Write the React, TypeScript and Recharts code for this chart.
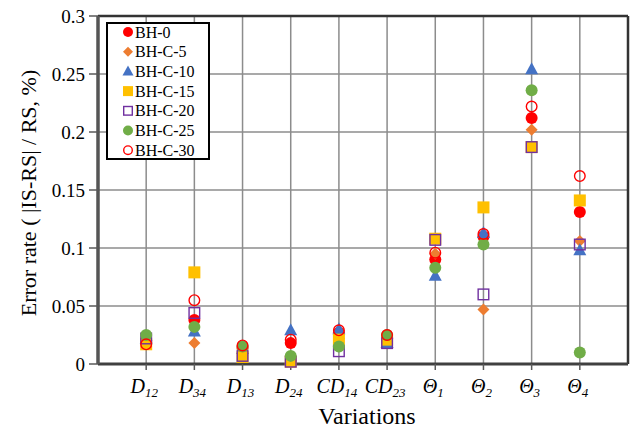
import React from "react";
import {
  ScatterChart,
  Scatter,
  XAxis,
  YAxis,
  CartesianGrid,
  ReferenceLine,
} from "recharts";

const categoryBase = ["D", "D", "D", "D", "CD", "CD", "Θ", "Θ", "Θ", "Θ"];
const categorySub = ["12", "34", "13", "24", "14", "23", "1", "2", "3", "4"];
const yTicks = [0, 0.05, 0.1, 0.15, 0.2, 0.25, 0.3];

const bh0 = [0.02, 0.038, 0.014, 0.018, 0.027, 0.022, 0.09, 0.11, 0.212, 0.131];
const bhC5 = [0.02, 0.018, 0.013, 0.003, 0.022, 0.02, 0.095, 0.047, 0.202, 0.106];
const bhC10 = [0.022, 0.028, 0.013, 0.029, 0.03, 0.018, 0.076, 0.113, 0.254, 0.098];
const bhC15 = [0.017, 0.079, 0.006, 0.002, 0.021, 0.021, 0.108, 0.135, 0.187, 0.141];
const bhC20 = [0.022, 0.044, 0.007, 0.002, 0.011, 0.018, 0.107, 0.06, 0.187, 0.103];
const bhC25 = [0.025, 0.032, 0.015, 0.007, 0.015, 0.025, 0.083, 0.103, 0.236, 0.01];
const bhC30 = [0.017, 0.055, 0.016, 0.021, 0.029, 0.025, 0.096, 0.112, 0.222, 0.162];

type Kind = "circle" | "diamond" | "triangle" | "square" | "hsquare" | "hcircle";

const series: { name: string; values: number[]; color: string; kind: Kind }[] = [
  { name: "BH-0", values: bh0, color: "#FF0000", kind: "circle" },
  { name: "BH-C-5", values: bhC5, color: "#ED7D31", kind: "diamond" },
  { name: "BH-C-10", values: bhC10, color: "#4472C4", kind: "triangle" },
  { name: "BH-C-15", values: bhC15, color: "#FFC000", kind: "square" },
  { name: "BH-C-20", values: bhC20, color: "#7030A0", kind: "hsquare" },
  { name: "BH-C-25", values: bhC25, color: "#70AD47", kind: "circle" },
  { name: "BH-C-30", values: bhC30, color: "#FF0000", kind: "hcircle" },
];

const FONT = "'Liberation Serif', 'Times New Roman', serif";

function Marker({ kind, color, cx, cy, r = 6 }: { kind: Kind; color: string; cx: number; cy: number; r?: number }) {
  switch (kind) {
    case "circle":
      return <circle cx={cx} cy={cy} r={r} fill={color} />;
    case "hcircle":
      return <circle cx={cx} cy={cy} r={r - 0.7} fill="none" stroke={color} strokeWidth={1.4} />;
    case "diamond":
      return (
        <polygon
          points={`${cx},${cy - r} ${cx + r},${cy} ${cx},${cy + r} ${cx - r},${cy}`}
          fill={color}
        />
      );
    case "triangle":
      return (
        <polygon
          points={`${cx},${cy - r - 1} ${cx + r + 0.5},${cy + r - 1} ${cx - r - 0.5},${cy + r - 1}`}
          fill={color}
        />
      );
    case "square":
      return <rect x={cx - r} y={cy - r} width={2 * r} height={2 * r} fill={color} />;
    case "hsquare":
      return (
        <rect x={cx - r + 0.7} y={cy - r + 0.7} width={2 * r - 1.4} height={2 * r - 1.4} fill="none" stroke={color} strokeWidth={1.4} />
      );
  }
  return null;
}

// eslint-disable-next-line @typescript-eslint/no-explicit-any
function XTick({ x, y, payload }: any) {
  const i = payload.value - 1;
  if (i < 0 || i >= categoryBase.length) return null;
  return (
    <text x={x - 2} y={y + 21} textAnchor="middle" fontFamily={FONT} fontSize={20} fontStyle="italic" fill="#000">
      <tspan>{categoryBase[i]}</tspan>
      <tspan dy={4} fontSize={13}>{categorySub[i]}</tspan>
    </text>
  );
}

function LegendBox() {
  return (
    <div
      style={{
        position: "absolute",
        left: 106,
        top: 22,
        width: 100,
        height: 134,
        border: "2px solid #000",
        background: "#fff",
      }}
    >
      <svg width={100} height={134} style={{ display: "block" }}>
        {series.map((s, i) => (
          <g key={s.name}>
            <Marker kind={s.kind} color={s.color} cx={20} cy={8 + i * 19.7} r={5} />
            <text x={27} y={13.5 + i * 19.7} fontFamily={FONT} fontSize={16} fill="#000">
              {s.name}
            </text>
          </g>
        ))}
      </svg>
    </div>
  );
}

export default function App() {
  return (
    <div style={{ position: "absolute", left: 0, top: 0, width: 638, height: 435, background: "#fff" }}>
      <ScatterChart width={638} height={435} margin={{ top: 16, right: 10, bottom: 0, left: 0 }}>
        <CartesianGrid stroke="#8c8c8c" strokeWidth={1.5} horizontalValues={yTicks} verticalValues={[1, 2, 3, 4, 5, 6, 7, 8, 9, 10]} />
        <XAxis
          type="number"
          dataKey="x"
          domain={[0, 11]}
          ticks={[1, 2, 3, 4, 5, 6, 7, 8, 9, 10]}
          interval={0}
          height={71}
          tick={<XTick />}
          tickLine={{ stroke: "#595959", strokeWidth: 1.5 }}
          tickSize={6}
          axisLine={{ stroke: "#404040", strokeWidth: 3 }}
        />
        <YAxis
          type="number"
          dataKey="y"
          domain={[0, 0.3]}
          ticks={yTicks}
          interval={0}
          width={98}
          tickFormatter={(v: number) => String(v)}
          tick={{ fontFamily: FONT, fontSize: 19, fill: "#000" }}
          tickLine={{ stroke: "#595959", strokeWidth: 1.5 }}
          tickSize={9}
          tickMargin={4}
          axisLine={{ stroke: "#555", strokeWidth: 3.5 }}
        />
        <ReferenceLine y={0.3} stroke="#333" strokeWidth={2.5} />
        <ReferenceLine x={11} stroke="#333" strokeWidth={2.5} />
        {series.map((s) => (
          <Scatter
            key={s.name}
            name={s.name}
            data={s.values.map((v, i) => ({ x: i + 1, y: v }))}
            isAnimationActive={false}
            // eslint-disable-next-line @typescript-eslint/no-explicit-any
            shape={(p: any) => <Marker kind={s.kind} color={s.color} cx={p.cx} cy={p.cy} />}
          />
        ))}
        <text
          x={28}
          y={193}
          transform="rotate(-90 28 193)"
          textAnchor="middle"
          dominantBaseline="central"
          fontFamily={FONT}
          fontSize={22}
          fill="#000"
        >
          Error rate ( |IS-RS| / RS, %)
        </text>
        <text x={367} y={424} textAnchor="middle" fontFamily={FONT} fontSize={24} fill="#000">
          Variations
        </text>
      </ScatterChart>
      <LegendBox />
    </div>
  );
}
